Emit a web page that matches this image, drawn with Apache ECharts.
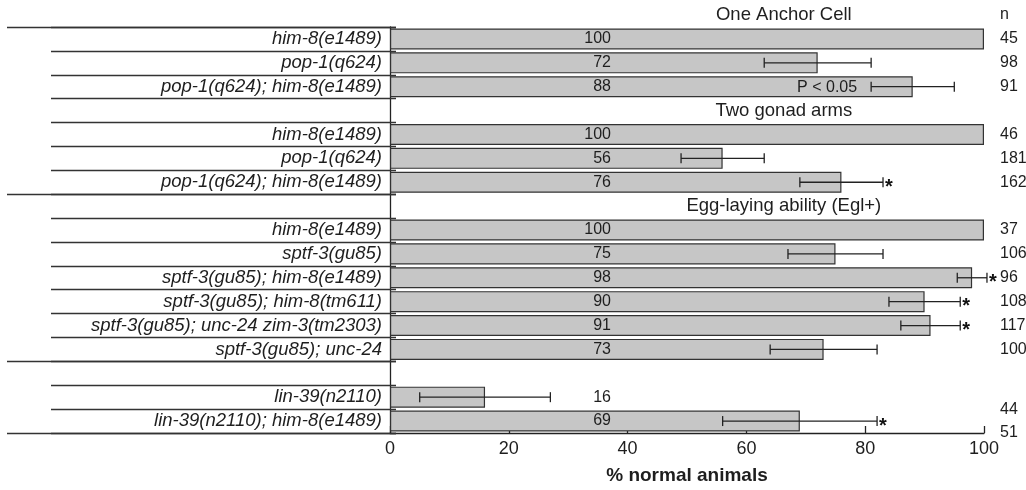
<!DOCTYPE html>
<html>
<head>
<meta charset="utf-8">
<script src="https://cdn.jsdelivr.net/npm/echarts@6/dist/echarts.min.js"></script>
<style>
  html, body { margin: 0; padding: 0; background: #ffffff; }
  #chart { width: 1026px; height: 490px; }
</style>
</head>
<body>
<div id="chart"></div>
<script>
// ---- data ----
const categories = [
  'him-8(e1489)', 'pop-1(q624)', 'pop-1(q624); him-8(e1489)', '',
  'him-8(e1489)', 'pop-1(q624)', 'pop-1(q624); him-8(e1489)', '',
  'him-8(e1489)', 'sptf-3(gu85)', 'sptf-3(gu85); him-8(e1489)', 'sptf-3(gu85); him-8(tm611)',
  'sptf-3(gu85); unc-24 zim-3(tm2303)', 'sptf-3(gu85); unc-24', '',
  'lin-39(n2110)', 'lin-39(n2110); him-8(e1489)'
];
const values = [100, 72, 88, null, 100, 56, 76, null, 100, 75, 98, 90, 91, 73, null, 16, 69];
const errors = [null, 9, 7, null, null, 7, 7, null, null, 8, 2.5, 6, 5, 9, null, 11, 13];
const stars  = [0, 0, 0, 0, 0, 0, 1, 0, 0, 0, 1, 1, 1, 0, 0, 0, 1];
const notes  = ['', '', 'P < 0.05', '', '', '', '', '', '', '', '', '', '', '', '', '', ''];
const nValues = ['45', '98', '91', '', '46', '181', '162', '', '37', '106', '96', '108', '117', '100', '', '44', '51'];
const nLowered = [15, 16];                    // rows whose n label sits half a row lower in the figure
const groupSizes = [7, 7, 3];                 // bracketed groups of rows
const sectionTitles = ['One Anchor Cell', 'Two gonad arms', 'Egg-laying ability (Egl+)'];
const sectionRows = [-1, 3, 7];               // row where each title sits (-1 = above first row)
const sectionTitleX = 66.3;                   // centre of titles on the % axis
const nHeader = 'n';
const xTicks = [0, 20, 40, 60, 80, 100];
const xAxisName = '% normal animals';

// ---- derived ----
const groupStarts = [];
groupSizes.reduce((acc, s) => { groupStarts.push(acc); return acc + s; }, 0);

const FONT = '"Liberation Sans", Arial, sans-serif';
const INK = '#1e1e1e';
const X_MAX = xTicks[xTicks.length - 1];

const errData = [];
values.forEach((v, i) => { if (v != null && errors[i] != null) errData.push([v, i, errors[i], i]); });

// n column: [x at axis end, row, lowered?, index]; header at row -1
const nData = [[X_MAX, -1, 0, -1]];
nValues.forEach((t, i) => { if (t !== '') nData.push([X_MAX, i, nLowered.indexOf(i) >= 0 ? 1 : 0, i]); });

const chart = echarts.init(document.getElementById('chart'), null, { renderer: 'canvas' });

const option = {
  backgroundColor: '#ffffff',
  animation: false,
  textStyle: { fontFamily: FONT, color: INK },
  grid: { left: 390, right: 42, top: 27, bottom: 57, containLabel: false },
  xAxis: {
    type: 'value', min: xTicks[0], max: X_MAX, interval: 20,
    axisLine: { show: true, lineStyle: { color: '#222', width: 1.3 } },
    axisTick: { show: true, inside: true, length: 7, lineStyle: { color: '#222', width: 1.3 } },
    splitLine: { show: false },
    axisLabel: { fontSize: 18, color: INK, margin: 7, fontFamily: FONT },
    name: xAxisName, nameLocation: 'middle', nameGap: 33,
    nameTextStyle: { fontSize: 19, fontWeight: 'bold', color: INK, fontFamily: FONT }
  },
  yAxis: [
    {
      type: 'category', inverse: true, data: categories, position: 'left',
      axisLine: { show: true, lineStyle: { color: '#222', width: 1.3 } },
      axisTick: { show: false },
      axisLabel: { fontSize: 18.5, fontStyle: 'italic', color: INK, margin: 8, interval: 0, fontFamily: FONT },
      splitLine: { show: false }
    },
    {
      // short row separators
      type: 'category', inverse: true, data: categories, position: 'left', offset: -6,
      axisLine: { show: false }, axisLabel: { show: false },
      axisTick: { show: true, interval: 0, length: 345, lineStyle: { color: '#333', width: 1.3 } }
    },
    {
      // long group separators
      type: 'category', inverse: true, data: categories, position: 'left', offset: -6,
      axisLine: { show: false }, axisLabel: { show: false },
      axisTick: { show: true, interval: (idx) => groupStarts.indexOf(idx) >= 0, length: 389,
                  lineStyle: { color: '#333', width: 1.3 } }
    }
  ],
  series: [
    {
      type: 'bar', yAxisIndex: 0, data: values.map(v => v == null ? '-' : v),
      barCategoryGap: '12%',
      itemStyle: { color: '#c6c6c6', borderColor: '#333', borderWidth: 1.2 },
      label: {
        show: true, position: [221, '50%'], align: 'right', verticalAlign: 'middle',
        fontSize: 16, color: INK, fontFamily: FONT, formatter: '{c}'
      },
      z: 2
    },
    {
      type: 'custom', yAxisIndex: 0, data: errData, z: 5, clip: false,
      renderItem: function (params, api) {
        const v = api.value(0), idx = api.value(1), e = api.value(2), row = api.value(3);
        const lo = api.coord([v - e, idx]);
        const hi = api.coord([v + e, idx]);
        const cap = 5;
        const ls = { stroke: '#222', lineWidth: 1.3 };
        const children = [
          { type: 'line', shape: { x1: lo[0], y1: lo[1], x2: hi[0], y2: hi[1] }, style: ls },
          { type: 'line', shape: { x1: lo[0], y1: lo[1] - cap, x2: lo[0], y2: lo[1] + cap }, style: ls },
          { type: 'line', shape: { x1: hi[0], y1: hi[1] - cap, x2: hi[0], y2: hi[1] + cap }, style: ls }
        ];
        if (stars[row]) {
          children.push({ type: 'text', style: { x: hi[0] + 2, y: hi[1] + 5, text: '*', fill: '#111',
            font: 'bold 20px ' + FONT, align: 'left', verticalAlign: 'middle' } });
        }
        if (notes[row]) {
          children.push({ type: 'text', style: { x: lo[0] - 14, y: lo[1] + 1, text: notes[row], fill: INK,
            font: '16px ' + FONT, align: 'right', verticalAlign: 'middle' } });
        }
        return { type: 'group', children: children };
      }
    },
    {
      // n column (with header)
      type: 'custom', yAxisIndex: 0, data: nData, z: 6, clip: false, silent: true,
      renderItem: function (params, api) {
        const row = api.value(1), low = api.value(2), i = api.value(3);
        const base = api.coord([api.value(0), 0]);
        const band = api.size([0, 1])[1];
        const y = base[1] + (row + low * 0.5) * band;
        return { type: 'text', style: { x: base[0] + 16, y: y, text: i < 0 ? nHeader : nValues[i], fill: INK,
          font: '16px ' + FONT, align: 'left', verticalAlign: 'middle' } };
      }
    },
    {
      // section titles
      type: 'custom', yAxisIndex: 0, data: sectionTitles.map((t, i) => [sectionTitleX, sectionRows[i], i]),
      z: 6, clip: false, silent: true,
      renderItem: function (params, api) {
        const i = api.value(2);
        const base = api.coord([api.value(0), 0]);
        const band = api.size([0, 1])[1];
        const y = base[1] + api.value(1) * band;
        return { type: 'text', style: { x: base[0], y: y, text: sectionTitles[i], fill: INK,
          font: '18.5px ' + FONT, align: 'center', verticalAlign: 'middle' } };
      }
    }
  ]
};
chart.setOption(option);
</script>
</body>
</html>
